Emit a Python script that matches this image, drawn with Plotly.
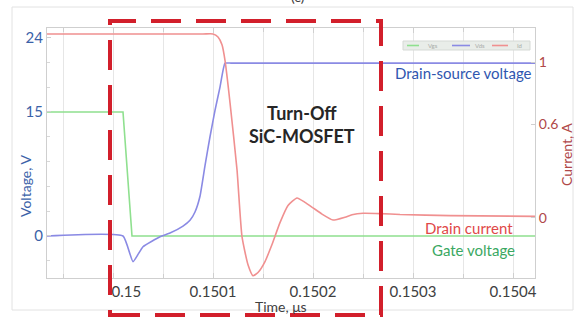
import plotly.graph_objects as go

# ---- data ----
t_gate = [0.149934, 0.15001, 0.150019, 0.150422]
v_gate = [15, 15, 0, 0]

t_vds = [0.149934, 0.15001, 0.15002, 0.15003, 0.150047, 0.150057, 0.15007, 0.150077,
         0.150082, 0.150087, 0.150092, 0.150097, 0.150102, 0.150107, 0.150112,
         0.150118, 0.15013, 0.150422]
v_vds = [0, 0, -3.1, -1.3, -0.1, 0.35, 1.2, 1.9,
         2.9, 4.8, 8.5, 12.0, 15.2, 18.0, 20.9,
         20.9, 20.9, 20.9]

t_id = [0.149934, 0.15009, 0.1501, 0.150105, 0.150109, 0.150112, 0.150117, 0.150124, 0.150129,
        0.150135, 0.15014, 0.150145, 0.150152, 0.150159, 0.150167, 0.150175, 0.150184,
        0.150192, 0.1502, 0.150209, 0.15022, 0.150232, 0.150239, 0.15025, 0.150267,
        0.150287, 0.150337, 0.150422]
i_d = [1.18, 1.18, 1.18, 1.16, 1.11, 1.01, 0.74, 0.31, -0.12,
       -0.30, -0.37, -0.35, -0.28, -0.17, -0.03, 0.08, 0.128,
       0.10, 0.065, 0.025, -0.013, 0.005, 0.02, 0.03, 0.028,
       0.022, 0.015, 0.01]

x_ticks = [0.15, 0.1501, 0.1502, 0.1503, 0.1504]
x_ticktext = ["\u00a0" * 7 + "0.15", "0.1501", "0.1502", "0.1503", "0.1504"]
v_ticks = [24, 15, 0]
i_ticks = [1, 0.6, 0, -0.4]
i_ticktext = ["1", "0.6", "0", "-0.4"]

series_names = ["Vgs", "Vds", "Id"]
series_colors = ["#8fe08f", "#8a8ae4", "#f09090"]

FONT = "Lato"

fig = go.Figure()
fig.add_trace(go.Scatter(x=t_gate, y=v_gate, mode="lines", name=series_names[0],
                         line=dict(color=series_colors[0], width=1.6), yaxis="y"))
fig.add_trace(go.Scatter(x=t_vds, y=v_vds, mode="lines", name=series_names[1],
                         line=dict(color=series_colors[1], width=1.6, shape="spline", smoothing=0.4), yaxis="y"))
fig.add_trace(go.Scatter(x=t_id, y=i_d, mode="lines", name=series_names[2],
                         line=dict(color=series_colors[2], width=1.6, shape="spline", smoothing=0.5), yaxis="y2"))

W, H = 577, 322
L, R, T, B = 47, 42, 28, 44
pw, ph = W - L - R, H - T - B

def px(xp):
    return (xp - L) / pw

def py(yp):
    return (H - B - yp) / ph

fig.update_layout(
    width=W, height=H, autosize=False,
    margin=dict(l=L, r=R, t=T, b=B),
    paper_bgcolor="white", plot_bgcolor="white",
    font=dict(family=FONT, size=15, color="#404040"),
    showlegend=False,
    xaxis=dict(range=[0.149934, 0.150422], tickvals=x_ticks, ticktext=x_ticktext,
               showgrid=True, gridcolor="#e6e6e6", gridwidth=1,
               minor=dict(dtick=0.00005, tick0=0.15, showgrid=True, gridcolor="#e6e6e6",
                          ticks="inside", ticklen=4, tickcolor="#cfcfcf"),
               ticks="inside", ticklen=5, tickcolor="#cfcfcf",
               showline=True, linecolor="#cfcfcf", linewidth=1, mirror="ticks",
               zeroline=False, tickfont=dict(color="#404040", size=15)),
    yaxis=dict(range=[-5.08, 25.15], tickvals=v_ticks, showgrid=False, zeroline=False,
               showline=True, linecolor="#cfcfcf", linewidth=1,
               ticks="inside", ticklen=4, tickcolor="#cfcfcf",
               minor=dict(dtick=3, tick0=0, ticks="inside", ticklen=3, tickcolor="#d8d8d8"),
               tickfont=dict(color="#3b62a8", size=15)),
    yaxis2=dict(range=[-0.385, 1.218], tickvals=i_ticks, ticktext=i_ticktext,
                overlaying="y", side="right", showgrid=False, zeroline=False,
                showline=True, linecolor="#cfcfcf", linewidth=1,
                ticks="inside", ticklen=4, tickcolor="#cfcfcf",
                tickfont=dict(color="#b04848", size=14)),
)

def ann(text, x, y, size, color, xanchor="center", angle=0, bold=False):
    f = dict(family=FONT, size=size, color=color)
    if bold:
        f["weight"] = "bold"
    return dict(text=text, x=px(x), y=py(y), xref="paper", yref="paper",
                xanchor=xanchor, yanchor="middle", textangle=angle,
                showarrow=False, font=f)

annotations = [
    ann("Turn-Off<br>SiC-MOSFET", 302, 124, 18, "#262626", bold=True),
    ann("Drain-source voltage", 534, 73, 15, "#2f56b0", xanchor="right"),
    ann("Drain current", 469, 228, 15, "#e04848"),
    ann("Gate voltage", 473, 250, 15, "#3aa862"),
    ann("Voltage, V", 25, 186, 14, "#3b62a8", angle=-90),
    ann("Current, A", 566, 155, 14, "#b04848", angle=-90),
    ann("Time, \u03bcs", 281, 306, 14, "#404040"),
    ann("(c)", 298, -4, 14, "#404040"),
]

# small legend box in the top-right corner (as in the reference)
leg_samples = [(407, 419, 433), (452, 470, 480), (492, 508, 519)]
shapes = [
    dict(type="rect", xref="paper", yref="paper",
         x0=px(12), x1=px(573), y0=py(310), y1=py(7),
         line=dict(color="#e2e2e2", width=1), layer="below"),
    dict(type="rect", xref="paper", yref="paper",
         x0=px(403), x1=px(530), y0=py(50), y1=py(41),
         fillcolor="#e9ede9", line=dict(color="#d5d9d5", width=1)),
]
for (a, b, tx), name, col in zip(leg_samples, series_names, series_colors):
    shapes.append(dict(type="line", xref="paper", yref="paper",
                       x0=px(a), x1=px(b), y0=py(45.5), y1=py(45.5),
                       line=dict(color=col, width=1.6)))
    annotations.append(ann(name, tx, 45.5, 6, "#a8aca8"))

shapes.append(dict(type="rect", xref="paper", yref="paper",
                   x0=px(110), x1=px(381), y0=py(315), y1=py(21),
                   line=dict(color="#d21f2b", width=4, dash="30px,15px")))

fig.update_layout(annotations=annotations, shapes=shapes)

fig.write_html("out.html", config={"displayModeBar": False},
               post_script="document.body.style.margin='0';document.body.style.padding='0';")
